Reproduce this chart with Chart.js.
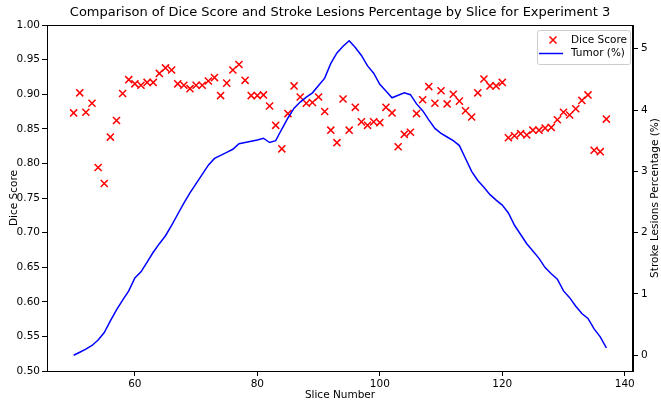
<!DOCTYPE html>
<html>
<head>
<meta charset="utf-8">
<script src="https://cdn.jsdelivr.net/npm/chart.js@4.4.0/dist/chart.umd.min.js"></script>
<style>
  body { margin: 0; background: #fff; }
  canvas { display: block; }
</style>
</head>
<body>
<canvas id="chart" width="661" height="402"></canvas>
<script>
// Slices, Dice score and tumour percentage
const slices = [50, 51, 52, 53, 54, 55, 56, 57, 58, 59,
	60, 61, 62, 63, 64, 65, 66, 67, 68, 69,
	70, 71, 72, 73, 74, 75, 76, 77, 78, 79,
	80, 81, 82, 83, 84, 85, 86, 87, 88, 89,
	90, 91, 92, 93, 94, 95, 96, 97, 98, 99,
	100, 101, 102, 103, 104, 105, 106, 107, 108, 109,
	110, 111, 112, 113, 114, 115, 116, 117, 118, 119,
	120, 121, 122, 123, 124, 125, 126, 127, 128, 129,
	130, 131, 132, 133, 134, 135, 136, 137];

const diceScores = [0.873, 0.902, 0.874, 0.887, 0.794, 0.771, 0.838, 0.862, 0.901, 0.921,
	0.915, 0.913, 0.917, 0.917, 0.930, 0.938, 0.935, 0.915, 0.913, 0.908,
	0.913, 0.913, 0.919, 0.924, 0.898, 0.916, 0.935, 0.943, 0.920, 0.898,
	0.898, 0.899, 0.883, 0.855, 0.821, 0.872, 0.912, 0.896, 0.887, 0.888,
	0.896, 0.875, 0.848, 0.830, 0.893, 0.848, 0.881, 0.860, 0.855, 0.860,
	0.859, 0.881, 0.873, 0.824, 0.842, 0.845, 0.872, 0.892, 0.911, 0.887,
	0.905, 0.886, 0.900, 0.890, 0.876, 0.867, 0.902, 0.922, 0.912, 0.912,
	0.917, 0.837, 0.840, 0.843, 0.841, 0.848, 0.848, 0.851, 0.852, 0.863,
	0.874, 0.870, 0.879, 0.891, 0.899, 0.819, 0.817, 0.864];

const tumorPct = [0.00, 0.05, 0.10, 0.16, 0.25, 0.37, 0.56, 0.74, 0.90, 1.05,
	1.26, 1.36, 1.52, 1.68, 1.82, 1.95, 2.12, 2.30, 2.48, 2.65,
	2.80, 2.95, 3.10, 3.21, 3.26, 3.31, 3.36, 3.45, 3.47, 3.49,
	3.51, 3.54, 3.47, 3.50, 3.69, 3.87, 4.03, 4.13, 4.21, 4.28,
	4.40, 4.52, 4.76, 4.93, 5.04, 5.13, 5.02, 4.89, 4.72, 4.60,
	4.42, 4.31, 4.20, 4.24, 4.28, 4.25, 4.10, 3.99, 3.84, 3.70,
	3.62, 3.56, 3.50, 3.42, 3.21, 3.00, 2.85, 2.74, 2.62, 2.53,
	2.45, 2.32, 2.12, 1.97, 1.82, 1.70, 1.58, 1.43, 1.33, 1.24,
	1.05, 0.94, 0.80, 0.68, 0.60, 0.43, 0.30, 0.12];

// Tick labels
const xTicks = [60, 80, 100, 120, 140];
const diceTicks = [0.50, 0.55, 0.60, 0.65, 0.70, 0.75, 0.80, 0.85, 0.90, 0.95, 1.00];
const tumorTicks = [0, 1, 2, 3, 4, 5];

const FONT = 'DejaVu Sans';

// Khung trục kiểu matplotlib, chú giải và nhãn trục phải
const framePlugin = {
	id: 'frame',
	afterDraw(chart) {
		const ctx = chart.ctx;
		const a = chart.chartArea;
		ctx.save();
		ctx.strokeStyle = '#000';
		ctx.lineWidth = 1;
		ctx.strokeRect(Math.round(a.left) + 0.5, Math.round(a.top) + 0.5,
			Math.round(a.right - a.left) - 1, Math.round(a.bottom - a.top));

		// right axis title, reads bottom to top
		ctx.fillStyle = '#000';
		ctx.font = '10.5px "' + FONT + '"';
		ctx.textAlign = 'center';
		ctx.textBaseline = 'middle';
		ctx.translate(655, (a.top + a.bottom) / 2);
		ctx.rotate(-Math.PI / 2);
		ctx.fillText('Stroke Lesions Percentage (%)', 0, 0);
		ctx.restore();

		// legend box
		const ds = chart.data.datasets;
		const bx = 537.5, by = 30.5, bw = 93, bh = 34;
		ctx.save();
		ctx.fillStyle = 'rgba(255,255,255,0.8)';
		ctx.strokeStyle = '#cccccc';
		ctx.lineWidth = 1;
		ctx.beginPath();
		ctx.roundRect(bx, by, bw, bh, 2);
		ctx.fill();
		ctx.stroke();

		ctx.font = '10.5px "' + FONT + '"';
		ctx.textAlign = 'left';
		ctx.textBaseline = 'middle';
		ctx.fillStyle = '#000';
		ds.forEach(d => {
			const y = d.legendRow === 0 ? 40 : 53.5;
			if (d.type === 'scatter') {
				ctx.strokeStyle = d.borderColor;
				ctx.lineWidth = 1.5;
				ctx.beginPath();
				ctx.moveTo(549.5, y - 3.5); ctx.lineTo(556.5, y + 3.5);
				ctx.moveTo(549.5, y + 3.5); ctx.lineTo(556.5, y - 3.5);
				ctx.stroke();
			} else {
				ctx.strokeStyle = d.borderColor;
				ctx.lineWidth = 1.5;
				ctx.beginPath();
				ctx.moveTo(539, y); ctx.lineTo(563, y);
				ctx.stroke();
			}
			ctx.fillText(d.label, 571, y);
		});
		ctx.restore();
	}
};

const tickGrid = {
	display: true,
	drawOnChartArea: false,
	drawTicks: true,
	tickLength: 5,
	color: '#000',
	lineWidth: 1
};

new Chart(document.getElementById('chart'), {
	data: {
		datasets: [{
			type: 'line',
			label: 'Tumor (%)',
			legendRow: 1,
			order: 0,
			yAxisID: 'y1',
			data: slices.map((s, i) => ({ x: s, y: tumorPct[i] })),
			borderColor: '#0000ff',
			borderWidth: 1.5,
			pointRadius: 0,
			tension: 0,
			fill: false
		}, {
			type: 'scatter',
			label: 'Dice Score',
			legendRow: 0,
			order: 1,
			yAxisID: 'y',
			data: slices.map((s, i) => ({ x: s, y: diceScores[i] })),
			pointStyle: 'crossRot',
			pointRadius: 5,
			borderColor: '#ff0000',
			backgroundColor: '#ff0000',
			borderWidth: 1.5
		}]
	},
	options: {
		responsive: false,
		animation: false,
		devicePixelRatio: 1,
		layout: { padding: 0 },
		plugins: {
			legend: { display: false },
			tooltip: { enabled: false },
			title: {
				display: true,
				fullSize: false,
				text: 'Comparison of Dice Score and Stroke Lesions Percentage by Slice for Experiment 3',
				color: '#000',
				font: { family: FONT, size: 13, weight: 'normal', lineHeight: 1.2 },
				padding: { top: 5, bottom: 4.4 }
			}
		},
		scales: {
			x: {
				type: 'linear',
				position: 'bottom',
				min: 45.65,
				max: 141.35,
				afterBuildTicks: s => { s.ticks = xTicks.map(v => ({ value: v })); },
				afterFit: s => { s.height = 31; },
				grid: tickGrid,
				border: { display: true, color: '#000', width: 1 },
				ticks: { color: '#000', padding: 2, maxRotation: 0, font: { family: FONT, size: 10.5 } },
				title: { display: true, text: 'Slice Number', color: '#000', padding: { top: 0, bottom: 0 }, font: { family: FONT, size: 10.5 } }
			},
			y: {
				type: 'linear',
				position: 'left',
				min: 0.5,
				max: 1.0,
				afterBuildTicks: s => { s.ticks = diceTicks.map(v => ({ value: v })); },
				afterFit: s => { s.width = 47; },
				grid: tickGrid,
				border: { display: true, color: '#000', width: 1 },
				ticks: { color: '#000', padding: 2, font: { family: FONT, size: 10.5 }, callback: v => Number(v).toFixed(2) },
				title: { display: true, text: 'Dice Score', color: '#000', padding: { top: 8, bottom: 0 }, font: { family: FONT, size: 10.5 } }
			},
			y1: {
				type: 'linear',
				position: 'right',
				min: -0.2565,
				max: 5.3865,
				afterBuildTicks: s => { s.ticks = tumorTicks.map(v => ({ value: v })); },
				afterFit: s => { s.width = 28; },
				grid: tickGrid,
				border: { display: true, color: '#000', width: 1 },
				ticks: { color: '#000', padding: 3, font: { family: FONT, size: 10.5 } }
			}
		}
	},
	plugins: [framePlugin]
});
</script>
</body>
</html>
